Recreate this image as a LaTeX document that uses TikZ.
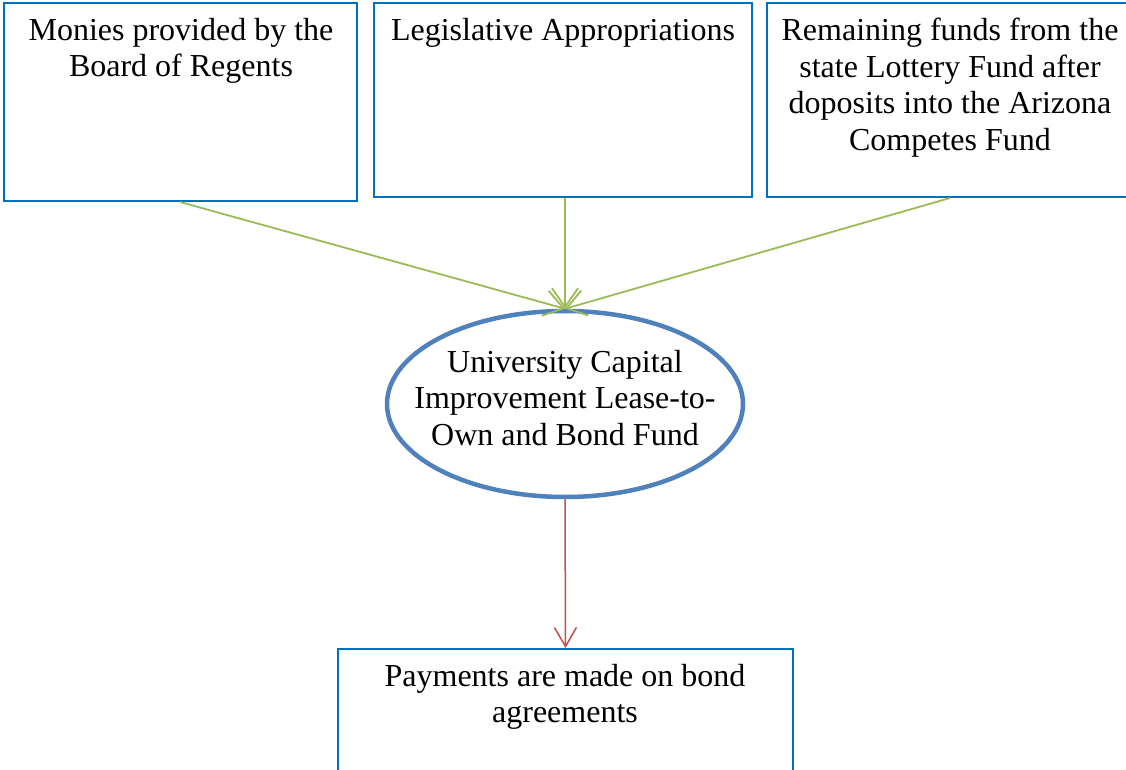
\documentclass[tikz,border=0pt]{standalone}
\usepackage{fontspec}
\setmainfont{Liberation Serif}
\usetikzlibrary{arrows.meta,shapes.geometric}
\definecolor{boxblue}{RGB}{0,112,192}
\definecolor{ellblue}{RGB}{79,129,189}
\definecolor{arrgreen}{RGB}{155,187,89}
\definecolor{arrred}{RGB}{192,80,77}
\tikzset{
  fundbox/.style={draw=boxblue, line width=2pt, rectangle, inner sep=0pt},
  txt/.style={anchor=north, align=center, inner sep=0pt, font=\fontsize{32}{36.5}\selectfont},
  fundell/.style={draw=ellblue, line width=4.5pt, ellipse, inner sep=0pt},
  inflow/.style={draw=arrgreen, line width=1.8pt, -{Straight Barb[length=19pt, width=26pt, line width=1.8pt]}},
  outflow/.style={draw=arrred, line width=1.5pt, -{Straight Barb[length=19pt, width=22pt, line width=1.5pt]}}
}
\begin{document}
\begin{tikzpicture}[x=1pt, y=-1pt]
\useasboundingbox (0,0) rectangle (1126,770);
\clip (0,0) rectangle (1126,770);
\fill[white] (0,0) rectangle (1126,770);
% boxes
\node[fundbox, minimum width=353pt, minimum height=198pt] (b1) at (180.5,102) {};
\node[fundbox, minimum width=378pt, minimum height=194pt] (b2) at (563,100) {};
\node[fundbox, minimum width=366pt, minimum height=194pt] (b3) at (950,100) {};
\node[fundbox, minimum width=455pt, minimum height=196pt] (b4) at (565.5,747) {};
% ellipse
\node[fundell, minimum width=356pt, minimum height=186pt] (e) at (565,404) {};
% texts
\node[txt] (t1) at (181,18) {Monies provided by the\\Board of Regents};
\node[txt] (t2) at (563,18) {Legislative Appropriations};
\node[txt] (t3) at (950,18) {Remaining funds from the\\state Lottery Fund after\\doposits into the Arizona\\Competes Fund};
\node[txt] (t4) at (565,664) {Payments are made on bond\\agreements};
\node[txt] (te) at (565,350) {University Capital\\Improvement Lease-to-\\Own and Bond Fund};
% connectors
\coordinate (s1) at (180,202);
\coordinate (s2) at (565,198);
\coordinate (s3) at (950,198);
\draw[inflow] (s1) -- (e.north);
\draw[inflow] (s2) -- (e.north);
\draw[inflow] (s3) -- (e.north);
\draw[outflow] (e.south) -- (b4.north);
\end{tikzpicture}
\end{document}
